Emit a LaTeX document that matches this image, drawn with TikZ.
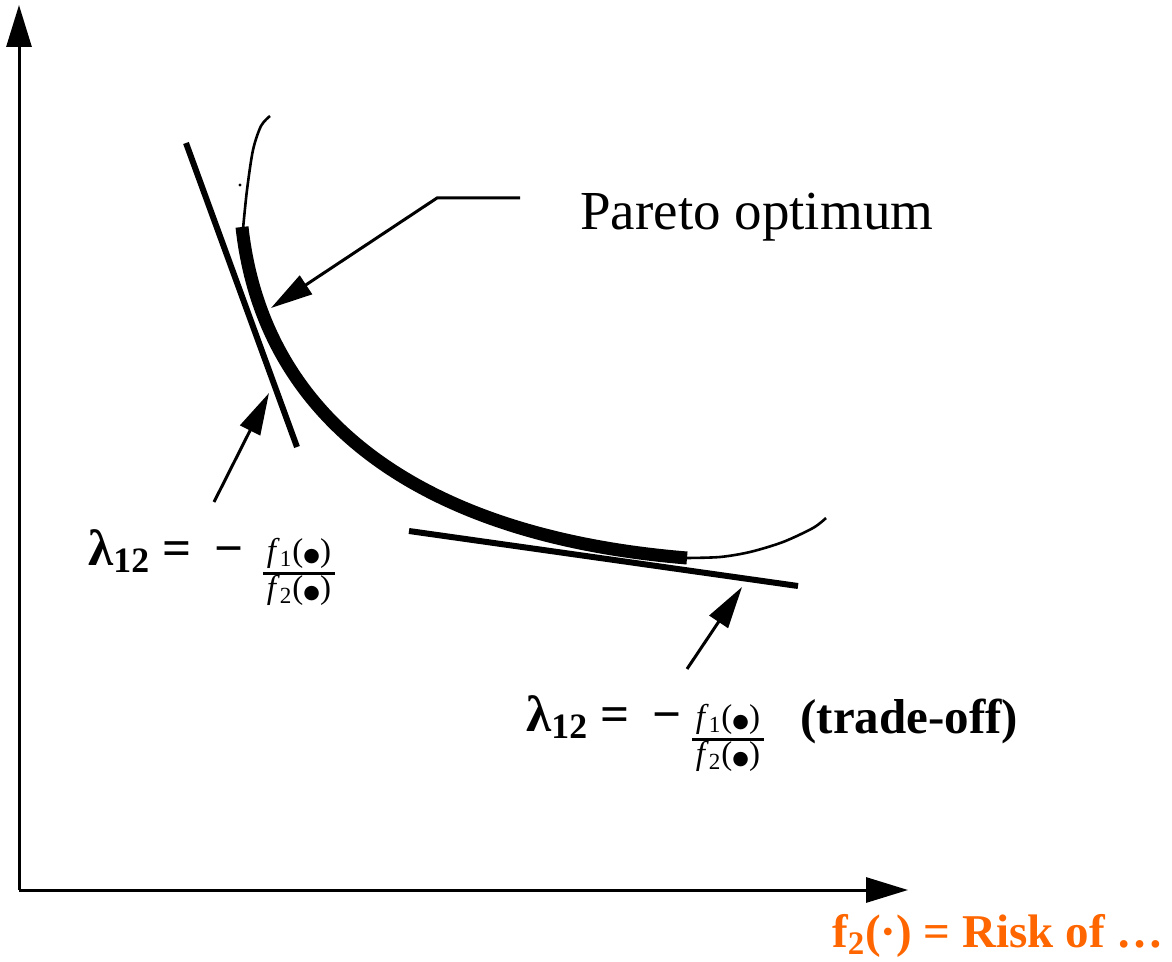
\documentclass[tikz,border=0pt]{standalone}
\usepackage{fontspec}
\setmainfont{Liberation Serif}
\newfontfamily\symfont{DejaVu Sans}
\usetikzlibrary{arrows.meta,positioning}
\definecolor{riskorange}{RGB}{255,102,0}
% rapporto f1/f2
\newcommand{\bigdot}{{\symfont\fontsize{9.5}{12}\selectfont ●}}
\newcommand{\ratiotext}{{\fontsize{16.5}{17}\selectfont\setlength{\arrayrulewidth}{1.5pt}%
  \begin{tabular}{@{\hspace{2pt}}c@{\hspace{2pt}}}\textit{f}\textsubscript{1}(\bigdot)\\\hline\textit{f}\textsubscript{2}(\bigdot)\end{tabular}}}
\newcommand{\lambdatext}{λ\textsubscript{12} =\hspace{0.45em}−}

\begin{document}
\begin{tikzpicture}[x=0.5pt,y=-0.5pt,
    axis/.style={line width=1.5pt,-{Triangle[length=21pt,width=12.5pt]}},
    pointer/.style={line width=1.5pt,-{Triangle[length=21pt,width=11pt]}},
    tangent/.style={line width=3pt},
    front/.style={line width=6.5pt},
    branch/.style={line width=1.3pt},
    lbl/.style={inner sep=0pt,anchor=base west,font=\fontsize{25.5}{28}\selectfont\bfseries},
    ratio/.style={inner sep=0pt}]
    \useasboundingbox (0,0) rectangle (1172,962);
    % --- assi ---
    \coordinate (O) at (19,890);
    \coordinate (ytop) at (19,5);
    \coordinate (xend) at (908,890);
    \draw[axis] (O) -- (ytop);
    \draw[axis] (O) -- (xend);
    \node[inner sep=0pt,anchor=base east,text=riskorange,font=\fontsize{23.5}{26}\selectfont\bfseries] (risk) at (1164,947) {f\textsubscript{2}(·) = Risk of …};
    % --- frontiera ---
    \draw[branch] plot[smooth] coordinates {(270,116) (261,126) (253,150) (247,190) (243,229)};
    \draw[front] (242,227) .. controls (263,417) and (417,536) .. (687,558);
    \draw[branch] plot[smooth] coordinates {(686,558) (720,557) (750,552) (783,542) (813,528) (826,518)};
    \fill (240,185) circle[radius=0.8pt];
    % --- tangenti ---
    \coordinate (t1a) at (186,143);
    \coordinate (t1b) at (297,447);
    \coordinate (t2a) at (409,531);
    \coordinate (t2b) at (798,586);
    \draw[tangent] (t1a) -- (t1b);
    \draw[tangent] (t2a) -- (t2b);
    % --- Pareto optimum ---
    \node[inner sep=0pt,anchor=base west,font=\fontsize{27.5}{30}\selectfont] (pareto) at (580,230) {Pareto optimum};
    \coordinate (pStart) at (520,198);
    \coordinate (pKnee) at (437,198);
    \coordinate (pTip) at (271,308);
    \draw[pointer] (pStart) -- (pKnee) -- (pTip);
    % --- prima tangente ---
    \node[lbl] (lamA) at (88,565) {\lambdatext};
    \node[ratio] (ratA) at (299,573) {\ratiotext};
    \coordinate (aTail) at (214,502);
    \coordinate (aTip) at (269,393);
    \draw[pointer] (aTail) -- (aTip);
    % --- seconda tangente (trade-off) ---
    \node[lbl] (lamB) at (526,731) {\lambdatext};
    \node[ratio] (ratB) at (728,739) {\ratiotext};
    \node[lbl,font=\fontsize{24.5}{27}\selectfont\bfseries] (trade) at (800,733) {(trade-off)};
    \coordinate (bTail) at (687,669);
    \coordinate (bTip) at (742,587);
    \draw[pointer] (bTail) -- (bTip);
\end{tikzpicture}
\end{document}
